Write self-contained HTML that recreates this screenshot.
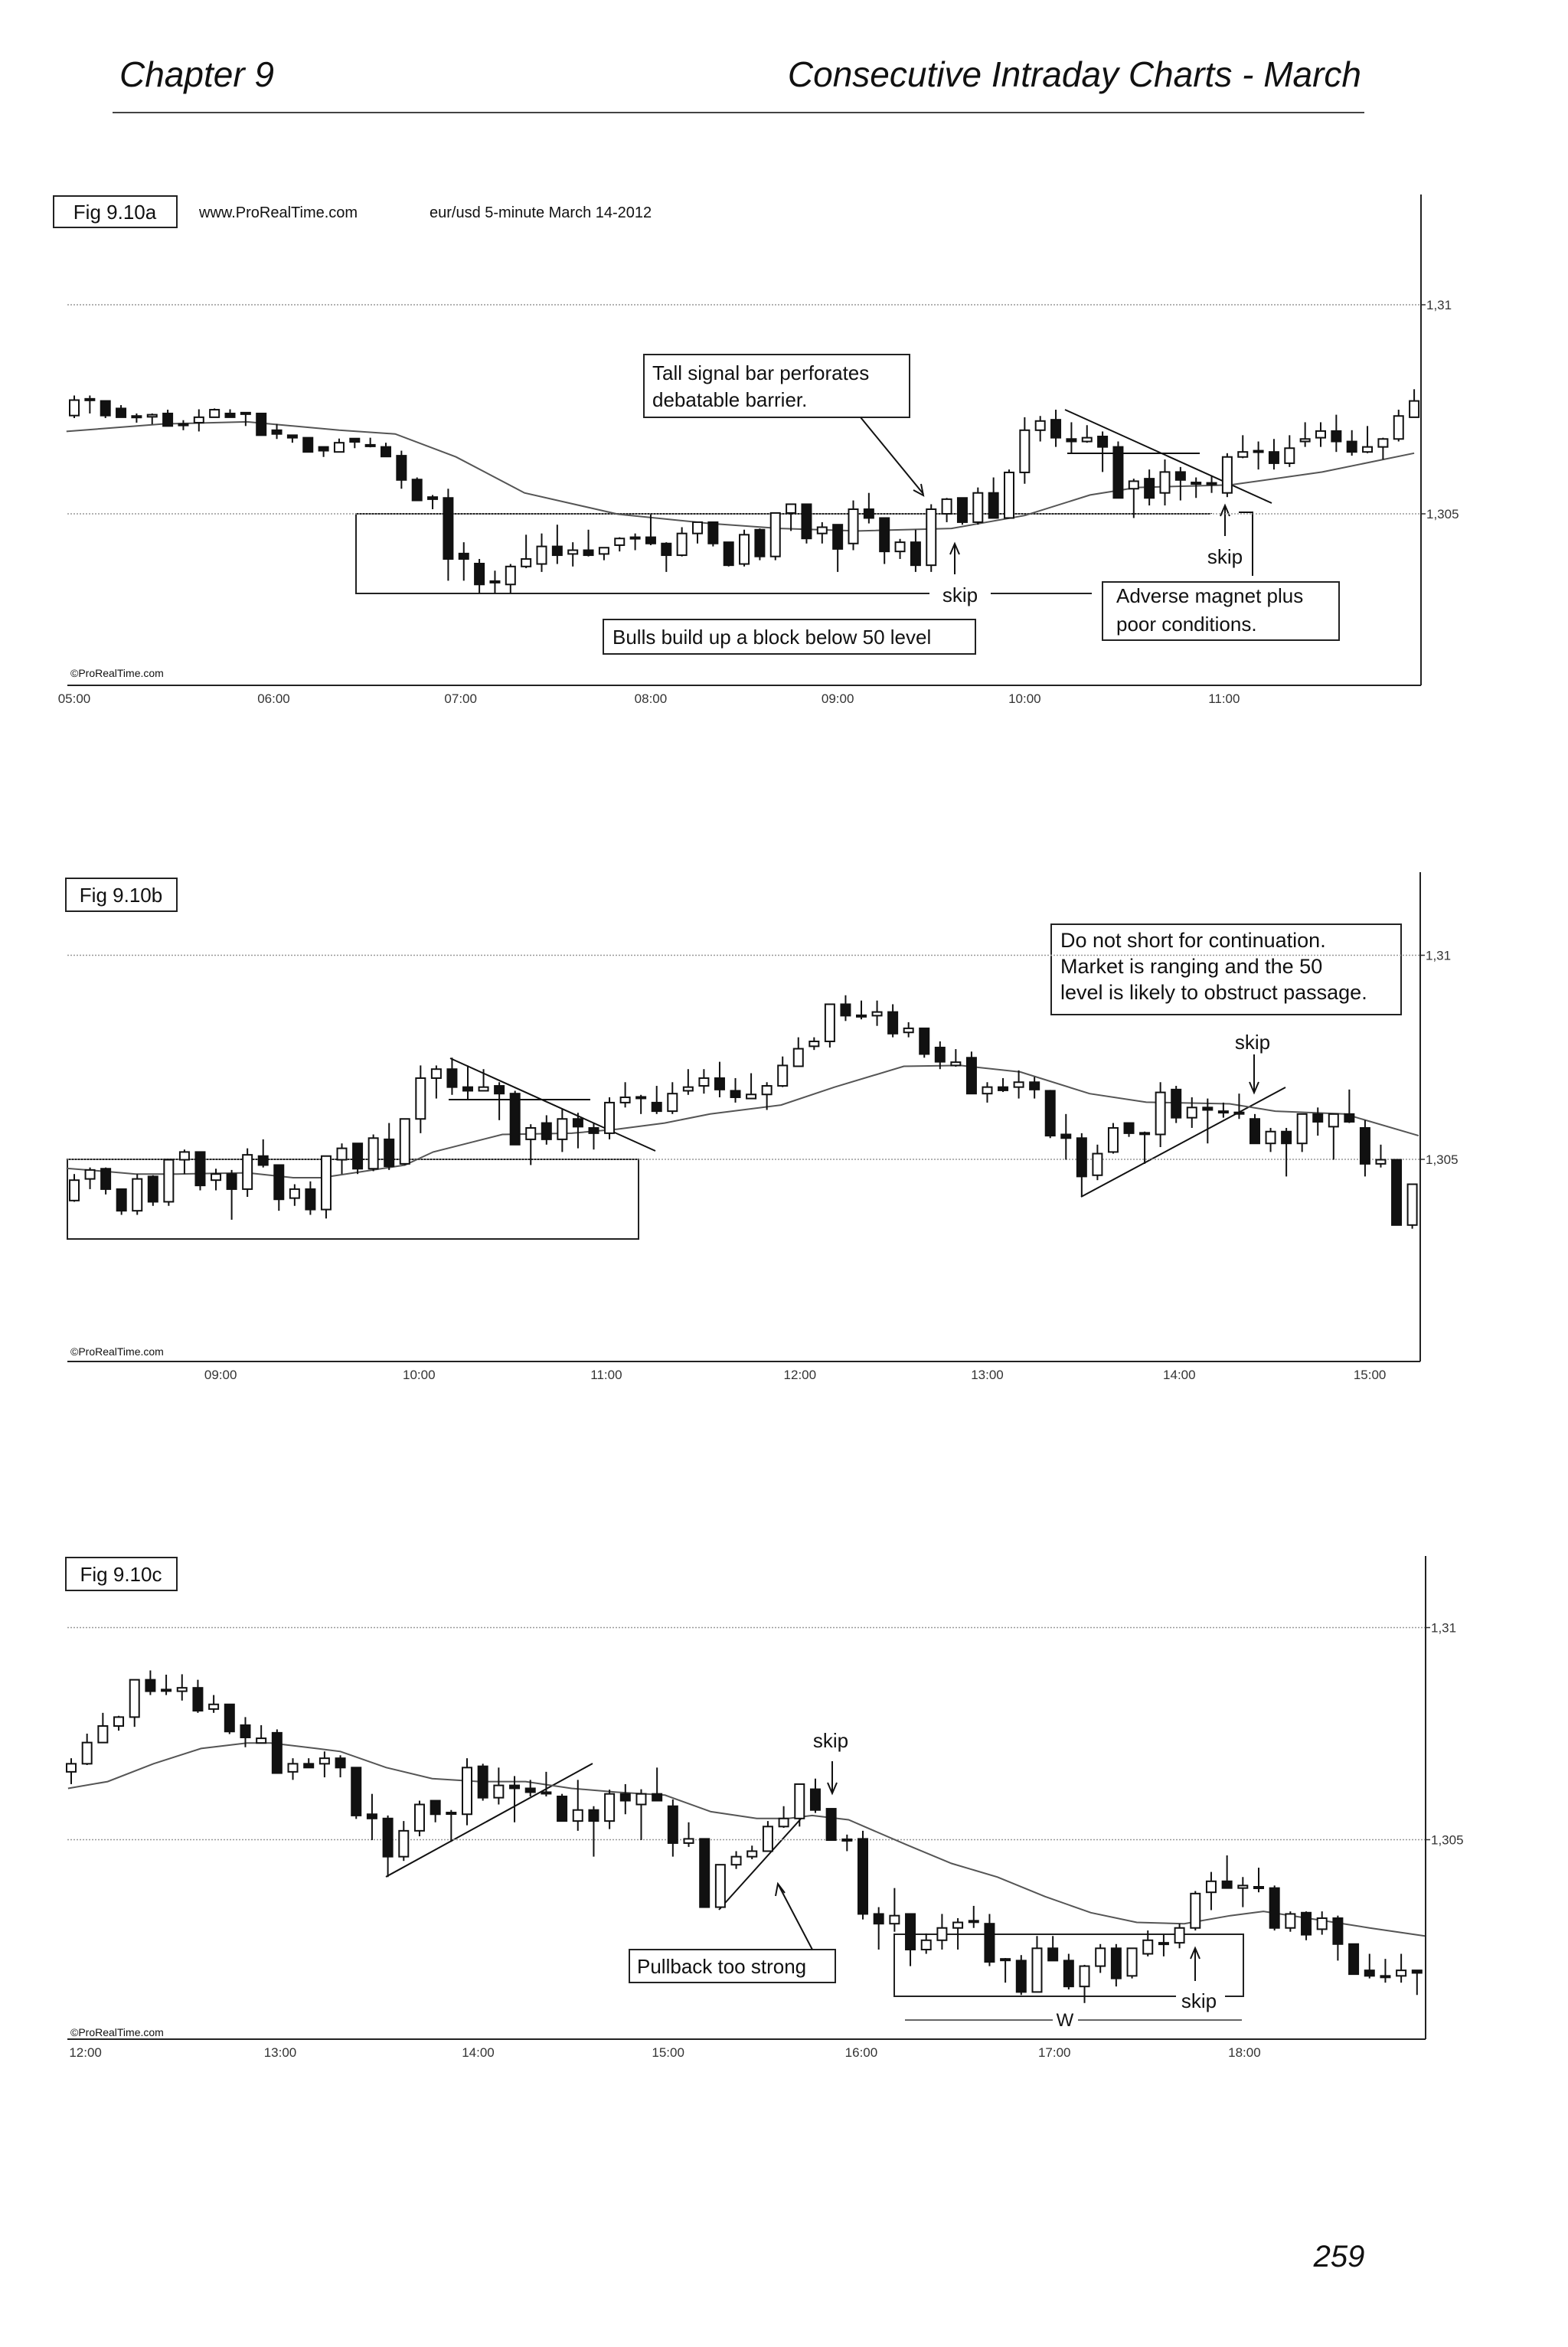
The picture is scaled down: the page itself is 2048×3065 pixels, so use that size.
<!DOCTYPE html>
<html><head><meta charset="utf-8">
<style>
html,body{margin:0;padding:0;background:#fff;}
#page{position:relative;width:2048px;height:3065px;overflow:hidden;background:#fff;}
svg{position:absolute;left:0;top:0;}
.ann{font-family:"Liberation Sans",sans-serif;font-size:26px;fill:#111;}
.tick{font-family:"Liberation Sans",sans-serif;font-size:17px;fill:#333;}
</style></head>
<body>
<div id="page">
<svg id="svg" width="2048" height="3065" viewBox="0 0 2048 3065" xmlns="http://www.w3.org/2000/svg">
  <g>
    <text x="156" y="113" font-family="Liberation Sans, sans-serif" font-style="italic" font-size="46" fill="#111">Chapter 9</text>
    <text x="1778" y="113" text-anchor="end" font-family="Liberation Sans, sans-serif" font-style="italic" font-size="46" fill="#111">Consecutive Intraday Charts - March</text>
    <line x1="147" y1="147" x2="1782" y2="147" stroke="#444" stroke-width="2"/>
  </g>
  <text x="1749" y="2960" text-anchor="middle" font-family="Liberation Sans, sans-serif" font-style="italic" font-size="40" fill="#111">259</text>

  <g>
    <rect x="70" y="256" width="161" height="41" fill="none" stroke="#222" stroke-width="2"/>
    <text x="150" y="286" text-anchor="middle" class="ann">Fig 9.10a</text>
    <text x="260" y="284" class="ann" style="font-size:20px">www.ProRealTime.com</text>
    <text x="561" y="284" class="ann" style="font-size:20px">eur/usd 5-minute March 14-2012</text>
    <text x="92" y="884" class="ann" style="font-size:14px">©ProRealTime.com</text>
    <rect x="465" y="671" width="1117" height="104" fill="none" stroke="#222" stroke-width="2"/>
    <rect x="1214" y="765" width="80" height="20" fill="#fff"/>
    <rect x="1426" y="765" width="160" height="20" fill="#fff"/>
    <line x1="1582" y1="671" x2="1582" y2="775" stroke="#fff" stroke-width="4"/>
    <text x="1254" y="786" text-anchor="middle" class="ann">skip</text>
    <line x1="1247" y1="750" x2="1247" y2="712" stroke="#111" stroke-width="2"/>
    <path d="M1241 724 L1247 710 L1253 724" fill="none" stroke="#111" stroke-width="2"/>
    <line x1="1600" y1="700" x2="1600" y2="662" stroke="#111" stroke-width="2"/>
    <path d="M1594 674 L1600 660 L1606 674" fill="none" stroke="#111" stroke-width="2"/>
    <text x="1600" y="736" text-anchor="middle" class="ann">skip</text>
    <path d="M1618 669 L1636 669 L1636 752" fill="none" stroke="#111" stroke-width="2"/>
    <line x1="1391" y1="535" x2="1661" y2="657" stroke="#111" stroke-width="2"/>
    <line x1="1394" y1="592" x2="1567" y2="592" stroke="#111" stroke-width="2"/>
    <rect x="841" y="463" width="347" height="82" fill="#fff" stroke="#222" stroke-width="2"/>
    <text x="852" y="496" class="ann">Tall signal bar perforates</text>
    <text x="852" y="531" class="ann">debatable barrier.</text>
    <line x1="1124" y1="545" x2="1206" y2="645" stroke="#111" stroke-width="2"/>
    <path d="M1193 640 L1206 647 L1203 632" fill="none" stroke="#111" stroke-width="2"/>
    <rect x="1440" y="760" width="309" height="76" fill="#fff" stroke="#222" stroke-width="2"/>
    <text x="1458" y="787" class="ann">Adverse magnet plus</text>
    <text x="1458" y="824" class="ann">poor conditions.</text>
    <rect x="788" y="809" width="486" height="45" fill="#fff" stroke="#222" stroke-width="2"/>
    <text x="800" y="841" class="ann">Bulls build up a block below 50 level</text>
  </g>

  <g>
    <rect x="86" y="1147" width="145" height="43" fill="none" stroke="#222" stroke-width="2"/>
    <text x="158" y="1178" text-anchor="middle" class="ann">Fig 9.10b</text>
    <text x="92" y="1770" class="ann" style="font-size:14px">©ProRealTime.com</text>
    <rect x="88" y="1514" width="746" height="104" fill="none" stroke="#222" stroke-width="2"/>
    <line x1="588" y1="1382" x2="856" y2="1503" stroke="#111" stroke-width="2"/>
    <line x1="586" y1="1436" x2="771" y2="1436" stroke="#111" stroke-width="2"/>
    <line x1="1412" y1="1563" x2="1679" y2="1420" stroke="#111" stroke-width="2"/>
    <text x="1636" y="1370" text-anchor="middle" class="ann">skip</text>
    <line x1="1638" y1="1377" x2="1638" y2="1425" stroke="#111" stroke-width="2"/>
    <path d="M1632 1413 L1638 1427 L1644 1413" fill="none" stroke="#111" stroke-width="2"/>
    <rect x="1373" y="1207" width="457" height="118" fill="#fff" stroke="#222" stroke-width="2"/>
    <text x="1385" y="1237" class="ann" style="font-size:27px">Do not short for continuation.</text>
    <text x="1385" y="1271" class="ann" style="font-size:27px">Market is ranging and the 50</text>
    <text x="1385" y="1305" class="ann" style="font-size:27px">level is likely to obstruct passage.</text>
  </g>

  <g>
    <rect x="86" y="2034" width="145" height="43" fill="none" stroke="#222" stroke-width="2"/>
    <text x="158" y="2065" text-anchor="middle" class="ann">Fig 9.10c</text>
    <text x="92" y="2659" class="ann" style="font-size:14px">©ProRealTime.com</text>
    <line x1="504" y1="2451" x2="774" y2="2303" stroke="#111" stroke-width="2"/>
    <line x1="939" y1="2494" x2="1048" y2="2373" stroke="#111" stroke-width="2"/>
    <text x="1085" y="2282" text-anchor="middle" class="ann">skip</text>
    <line x1="1087" y1="2300" x2="1087" y2="2340" stroke="#111" stroke-width="2"/>
    <path d="M1081 2328 L1087 2342 L1093 2328" fill="none" stroke="#111" stroke-width="2"/>
    <rect x="822" y="2546" width="269" height="43" fill="#fff" stroke="#222" stroke-width="2"/>
    <text x="832" y="2577" class="ann">Pullback too strong</text>
    <line x1="1061" y1="2546" x2="1017" y2="2462" stroke="#111" stroke-width="2"/>
    <path d="M1013 2476 L1016 2460 L1025 2472" fill="none" stroke="#111" stroke-width="2"/>
    <path d="M1536 2607 L1168 2607 L1168 2526 L1624 2526 L1624 2607 L1600 2607" fill="none" stroke="#222" stroke-width="2"/>
    <text x="1566" y="2622" text-anchor="middle" class="ann">skip</text>
    <line x1="1561" y1="2587" x2="1561" y2="2546" stroke="#111" stroke-width="2"/>
    <path d="M1555 2558 L1561 2544 L1567 2558" fill="none" stroke="#111" stroke-width="2"/>
    <line x1="1182" y1="2638" x2="1375" y2="2638" stroke="#333" stroke-width="1.5"/>
    <line x1="1408" y1="2638" x2="1622" y2="2638" stroke="#333" stroke-width="1.5"/>
    <text x="1391" y="2646" text-anchor="middle" class="ann" style="font-size:24px">W</text>
  </g>
  <g id="charts"></g>
</svg>
</div>
<script>
const aOpen=[73.5,77.5,77,75.2,73.4,73.2,74,71.5,71.8,73.1,74,74.2,74,70,68.8,68.2,66,64.8,68,66.5,66,63.9,58.2,54,53.8,40.5,38.1,33.9,33.1,37.4,38,42.2,40.4,41.3,40.4,42.5,44.4,44.4,42.9,40.1,45.3,48,43.2,38,46.2,39.8,50.2,52.3,45.3,47.4,42.9,51.1,49,41,43.2,37.7,50,53.8,48,55,49,59.9,70,72.5,67.9,67.3,68.5,66,56,58.4,55,60,57.5,57.2,55,63.6,65.1,64.8,62.1,67.3,68.2,69.8,67.3,64.8,66,67.9,73.1];
const aHigh=[78.3,78.3,77,76,74,74,74.9,72.4,75,75.2,75,74.3,74,71.5,68.8,68.2,66,68,68,68.2,67,65.1,58.7,54.5,56,43.2,39.2,36.4,38,45,45.3,47.4,43.2,46.2,42,44.4,45.3,49.9,43.2,46.8,48,48,43.2,46.2,46.5,50.2,52.3,52.3,48,47.4,53.2,55,49,44,46.2,52.3,53.8,53.8,56.3,58.7,60.6,73.1,73.4,74.9,71.9,71.2,69.7,67.3,58.4,60.6,63,61.2,58.7,59,64.5,68.8,67.3,67.9,68.8,71.9,71.9,73.7,70,71,68.2,74.9,79.8];
const aLow=[72.9,74,72.9,73,71.8,71.4,71,70,69.7,73,73,71,68.8,67.9,67,64.8,63.6,64.7,65.7,65.9,63.7,56,53.2,51.1,34,34,31,31,31,37,36.1,38,37.4,39.8,38.9,41,41.3,42.5,36.1,39.8,42.9,42.2,37.4,37.4,38.9,38.9,45.9,42.9,42.9,36.1,41.3,47.7,38,39.2,36.1,36.1,48,47.4,47.4,49,49,57.2,67.3,66,64.5,67,60,53.8,49,52,52,53.2,53.8,55,54,63.3,60.6,60.6,61.2,66,66,64.8,63.9,64.5,63,67.3,73.1];
const aClose=[77.2,77.4,73.5,73.1,73.2,73.7,71,71.3,73.1,74.9,73.1,74,68.8,69.1,68.2,64.8,65.1,67,67.2,66.3,63.7,58.1,53.2,53.5,39.2,39.2,33.1,33.7,37.4,39.2,42.2,40.1,41.3,40.1,41.9,44.1,44.2,42.9,40.1,45.3,48,42.9,37.7,45,39.8,50.2,52.3,44.1,46.8,41.6,51.1,49,41,43.2,37.7,51.1,53.5,48,55,49,59.9,70,72.2,68.2,67.3,68.2,66,53.8,57.8,53.8,60,58.1,57.2,57.4,63.6,64.8,65.1,62.1,65.7,67.9,69.8,67.3,64.8,66,67.9,73.4,77];
const aMaIdx=[-0.5,5.7,11.1,17,20.6,24.5,28.9,34.9,40.8,45.3,50.3,56.3,61,65.2,68.2,74.2,80.1,86];
const aMaVal=[69.7,71.5,72,70,69.1,63.6,55,49.9,47.7,46.5,45.9,46.5,49.6,54.5,56.3,56.9,60,64.5];
const aTickLabels=["05:00","06:00","07:00","08:00","09:00","10:00","11:00"];
const aTickIdx=[0,12.8,24.8,37,49,61,73.8];

const bOpen=[39.9,45.2,47.7,42.7,37.4,45.8,39.6,49.9,51.8,44.9,46.4,42.7,50.8,48.6,40.5,42.7,37.7,49.9,53.9,47.7,54.9,48.9,59.9,69.9,72.1,67.7,66.8,68,66.1,54.9,58.9,54.9,59.9,57.7,56.4,63.9,65.3,63.9,61.8,66.8,68,69.9,66.8,64.9,65.9,68,72.8,77.7,78.9,88,85.3,85.2,86.1,81.1,82.1,77.4,73,74.9,66.1,67.7,67.7,68.9,66.8,56.1,55.2,46.1,51.8,58.9,56.5,56.1,67.1,60.2,62.7,61.8,61.4,59.9,53.9,56.8,53.9,61.1,58,61.1,57.7,48.9,49.9,33.9];
const bHigh=[46.4,48,48,42.7,46.4,46.1,49.9,52.4,51.8,47.7,47.4,52.7,54.9,48.6,43.9,44.6,50.8,53.9,53.9,56.1,58.9,59.9,73,73,74.9,73,72.1,68.9,66.8,58.6,60.8,62.4,61.4,58.9,65.2,68.9,65.8,68,68.9,72.1,72.1,73.9,69.9,71.1,68.9,75.2,79.9,79.9,88,90.2,88.9,88.9,88,83.6,82.1,78.9,77,76.4,68.9,69.9,71.8,70.2,67,61.1,56.4,53.6,58.9,58.9,56.8,68.9,68,65.2,64.9,63.9,66.1,61.1,57.7,57.7,61.1,62.7,61.1,67.1,59.6,53.6,49.9,43.9];
const bLow=[39.6,42.7,41.4,36.4,36.4,38.6,38.6,46.4,42.4,42.4,35.2,40.8,48,37.4,38.6,36.4,35.5,46.4,46.4,47.1,47.4,48.6,56.4,64.9,65.8,64.6,66.8,59.6,53.6,48.6,53.6,51.8,52.7,52.4,54.9,62.7,61.1,61.1,61.1,65.8,66.1,65.2,63.9,64.9,62.1,67.7,72.7,76.8,77.4,83.9,84.3,82.7,79.9,79.9,74.9,72.1,72.7,66.1,63.9,66.5,64.9,64.9,55.2,49.9,40.8,44.9,51.4,55.5,48.9,53,58.9,57.7,53.9,60.2,59.9,53.9,51.8,45.8,51.8,55.8,49.9,58.9,45.8,48,33.9,33];
const bClose=[44.9,47.4,42.7,37.4,45.2,39.6,49.9,51.8,43.6,46.4,42.7,51.1,48.6,40.2,42.7,37.7,50.8,52.7,47.7,55.2,48.3,59.9,69.9,72.1,67.7,66.8,67.7,66.1,53.6,57.7,54.9,59.9,58,56.4,63.9,65.2,65.3,61.8,66.1,67.7,69.9,67.1,65.2,65.9,68,73,77.1,78.9,88,85.2,85.2,86.1,80.8,82.1,75.8,73.9,73.8,66.1,67.7,66.9,68.9,67.1,55.8,55.2,45.8,51.4,57.7,56.4,56.4,66.4,60.2,62.7,62.1,61.7,61.5,53.9,56.8,53.9,61.1,59.2,61.1,59.2,48.9,49.9,33.9,43.9];
const bMaIdx=[-0.5,2.1,3.9,6.5,11,13.9,15.7,18.3,21,22.8,27.2,31.6,34.5,37.5,40.4,44.9,48.3,52.7,56.3,60.1,64.5,68.1,73.4,76.3,80.7,85.4];
const bMaVal=[47.8,47,46.4,46.4,46.7,45.5,45.5,47,48.6,51.8,56.1,56.4,57.4,58.9,61.1,63.3,67.7,72.8,73,71.4,66.1,64,63.6,61.8,61.1,55.8];
const bTickLabels=["09:00","10:00","11:00","12:00","13:00","14:00","15:00"];
const bTickIdx=[9.3,21.9,33.8,46.1,58,70.2,82.3];

const cOpen=[66,67.9,72.9,76.8,78.9,87.7,85.4,85,85.8,80.8,81.9,77,72.8,75.2,66,67.9,67.9,69.2,67,56,55,46,52.1,59.2,56.4,56,67.3,59.9,62.8,62.1,61.1,60.2,54.4,57,54.4,60.8,58.3,60.8,57.9,49.2,50.2,34.1,44.1,46,47.3,53.1,55,61.9,57.3,50.1,50.2,32.5,30.2,32.5,24.1,26.3,29.2,30.9,30.2,21.9,21.5,14.1,24.4,21.5,15.4,20.2,24.4,17.9,23.1,25.7,25.7,29.2,37.6,40.2,38.6,38.9,38.6,29.2,32.8,28.9,31.5,25.4,19.2,17.9,17.9,19.2];
const cHigh=[69.2,75,79.9,79.2,87.7,89.9,88.9,89,87.7,84.1,81.9,78.9,77,76,69.2,69.2,70.8,69.9,67,60.8,55.7,54.4,59.2,59.2,57,69.2,67.9,67,65,64.1,66,60.8,64.1,57.9,61.8,63.1,61.9,67,59.5,54.1,50.2,44.1,47.3,48.6,54.4,57.9,63.1,64.4,57.3,51.2,52.1,34.1,38.6,32.5,27.9,32.5,31.5,34.4,32.5,22.1,22.8,27.3,27.3,23.1,20.5,25.4,25.4,24.4,28.6,27.6,30.2,37.9,42.4,46.3,41.2,43.4,39.2,33.1,33.1,33.1,32.1,25.4,23.1,21.9,23.1,19.2];
const cLow=[63.1,67.6,72.8,75.7,76.6,84.1,84.1,82.8,79.9,79.9,74.9,71.8,72.8,65.7,64.1,67,64.7,64.7,54.9,49.9,41.2,45,50.8,54.1,49.5,53.4,59.2,58.3,54.1,60.2,60.2,54.4,52.1,46,52.5,56,49.9,59.2,46,48.3,34.1,33.7,43.1,45.4,47.3,52.8,53.1,56.3,49.9,47.3,31.2,24.1,28.3,20.2,23.1,24.1,24.1,29.2,20.2,16.3,13.4,14.1,21.5,14.7,11.5,18.6,15.4,17.3,22.5,22.5,24.4,28.6,33.4,38.6,34.1,37.6,28.6,28.3,26.3,27.6,21.5,18.3,17.3,16.3,16.3,13.4];
const cClose=[67.9,72.9,76.8,78.9,87.7,85,85.3,85.8,80.4,81.9,75.5,74.1,73.9,65.7,67.9,67,69.2,67,55.7,55,46,52.1,58.3,56,56.3,67,59.9,62.8,62.1,61.2,61.2,54.4,57,54.4,60.8,59.2,60.8,59.2,49.2,50.2,34.1,44.1,46,47.3,53.1,55,63.1,57,49.9,49.9,32.5,30.2,32.1,24.1,26.3,29.2,30.5,30.8,21.2,21.8,14.1,24.4,21.5,15.4,20.2,24.4,17.3,24.4,26.3,25.6,29.2,37.3,40.2,38.6,39.2,38.9,29.2,32.5,27.6,31.5,25.4,18.3,17.9,17.8,19.2,18.6];
const cMaIdx=[-0.2,2.3,5.2,8.2,11.1,12.6,15.5,17,19.9,22.8,25.8,28.7,31.6,34.5,37.5,40.4,43.3,45.3,46.8,49.1,52.7,55.6,58.5,61.5,64.4,67.3,70.3,73.2,75.3,79.1,82,85.5];
const cMaVal=[62.1,63.7,67.9,71.5,72.8,72.8,71.5,70.8,67,64.4,63.7,63.7,62.1,61.2,60.5,56.6,55,55,55.7,54.7,48.9,44.4,41.2,36.6,32.8,30.5,30.2,32.1,33.1,30.9,29.2,27.3];
const cTickLabels=["12:00","13:00","14:00","15:00","16:00","17:00","18:00"];
const cTickIdx=[0.9,13.2,25.7,37.7,49.9,62.1,74.1];

const NS="http://www.w3.org/2000/svg";
const root=document.getElementById('charts');
function mk(tag,attrs,parent){const e=document.createElementNS(NS,tag);for(const k in attrs)e.setAttribute(k,attrs[k]);parent.appendChild(e);return e;}

function drawChart(id,cfg,O,H,L,C,maI,maV,tl,ti){
  const g=mk('g',{},root);
  
  
  const xS=i=>cfg.x0+i*cfg.dx;
  const yS=p=>cfg.y50-(p-50)*cfg.ppp;
  [100,50].forEach((p,k)=>{
    const gl=mk('line',{x1:cfg.left,x2:cfg.right,y1:yS(p),y2:yS(p),stroke:'#999','stroke-width':1.5,'stroke-dasharray':'2,2'},g);
    
    
    const tk=mk('line',{x1:cfg.right,x2:cfg.right+6,y1:yS(p),y2:yS(p),stroke:'#333','stroke-width':1.5},g);
    
    
    const t=mk('text',{x:cfg.right+7,y:yS(p)+6,class:'tick'},g);
    t.textContent=p===100?'1,31':'1,305';
    
    
  });
  const ax=mk('line',{x1:cfg.left,x2:cfg.right,y1:cfg.bottom,y2:cfg.bottom,stroke:'#222','stroke-width':2},g);
  
  
  const ay=mk('line',{x1:cfg.right,x2:cfg.right,y1:cfg.top,y2:cfg.bottom,stroke:'#222','stroke-width':2},g);
  
  
  tl.forEach((s,k)=>{
    const t=mk('text',{x:xS(ti[k]),y:cfg.bottom+23,class:'tick','text-anchor':'middle'},g);
    t.textContent=s;
    
    
  });
  let d='';
  maI.forEach((v,k)=>{d+=(k?'L':'M')+xS(v).toFixed(1)+' '+yS(maV[k]).toFixed(1)+' ';});
  const ma=mk('path',{d:d,fill:'none',stroke:'#555','stroke-width':2},g);
  
  
  const bw=12;
  O.forEach((o,i)=>{
    const c=C[i],x=xS(i);
    const cg=mk('g',{},g);
    
    
    mk('line',{x1:x,x2:x,y1:yS(H[i]),y2:yS(L[i]),stroke:'#111','stroke-width':2},cg);
    const top=yS(Math.max(o,c)),bot=yS(Math.min(o,c));
    const h=Math.max(bot-top,2);
    const up=c>=o;
    mk('rect',{x:x-bw/2,y:top,width:bw,height:h,fill:up?'#fff':'#111',stroke:'#111','stroke-width':2},cg);
  });
}
drawChart('a',{x0:97,dx:20.35,y50:671,ppp:5.46,left:88,right:1856,top:254,bottom:895},aOpen,aHigh,aLow,aClose,aMaIdx,aMaVal,aTickLabels,aTickIdx);
drawChart('b',{x0:97,dx:20.56,y50:1514,ppp:5.33,left:88,right:1855,top:1139,bottom:1778},bOpen,bHigh,bLow,bClose,bMaIdx,bMaVal,bTickLabels,bTickIdx);
drawChart('c',{x0:93,dx:20.68,y50:2402.5,ppp:5.54,left:88,right:1862,top:2032,bottom:2663},cOpen,cHigh,cLow,cClose,cMaIdx,cMaVal,cTickLabels,cTickIdx);
</script>
</body></html>
